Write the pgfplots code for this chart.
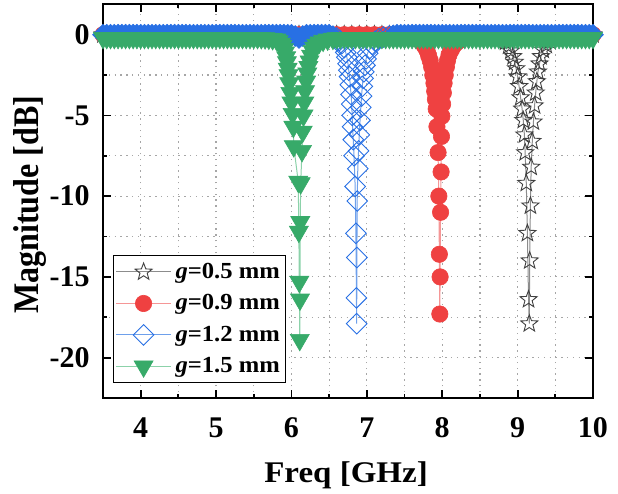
\documentclass[border=0pt]{standalone}
\usepackage{fontspec}
\setmainfont{Liberation Serif}
\newfontfamily\legfont[FakeStretch=1.07]{Liberation Serif}
\newfontfamily\ylabfont[FakeStretch=0.89]{Liberation Serif}
\newfontfamily\xlabfont[FakeStretch=1.1]{Liberation Serif}
\usepackage{pgfplots}
\pgfplotsset{compat=1.18}

\definecolor{cblk}{RGB}{64,64,64}
\definecolor{cblkl}{RGB}{140,140,140}
\definecolor{cred}{RGB}{239,65,65}
\definecolor{credl}{RGB}{245,150,150}
\definecolor{cblu}{RGB}{40,112,228}
\definecolor{cblul}{RGB}{110,160,235}
\definecolor{cgrn}{RGB}{55,170,105}
\definecolor{cgrnl}{RGB}{140,210,170}

% open five-pointed star
\pgfdeclareplotmark{ostar}{%
  \pgfpathmoveto{\pgfpointpolar{90}{\pgfplotmarksize}}%
  \pgfpathlineto{\pgfpointpolar{126}{0.42\pgfplotmarksize}}%
  \pgfpathlineto{\pgfpointpolar{162}{\pgfplotmarksize}}%
  \pgfpathlineto{\pgfpointpolar{198}{0.42\pgfplotmarksize}}%
  \pgfpathlineto{\pgfpointpolar{234}{\pgfplotmarksize}}%
  \pgfpathlineto{\pgfpointpolar{270}{0.42\pgfplotmarksize}}%
  \pgfpathlineto{\pgfpointpolar{306}{\pgfplotmarksize}}%
  \pgfpathlineto{\pgfpointpolar{342}{0.42\pgfplotmarksize}}%
  \pgfpathlineto{\pgfpointpolar{18}{\pgfplotmarksize}}%
  \pgfpathlineto{\pgfpointpolar{54}{0.42\pgfplotmarksize}}%
  \pgfpathclose\pgfusepathqstroke}
% square diamond, open and filled
\pgfdeclareplotmark{rhomb}{%
  \pgfpathmoveto{\pgfqpoint{0pt}{\pgfplotmarksize}}%
  \pgfpathlineto{\pgfqpoint{\pgfplotmarksize}{0pt}}%
  \pgfpathlineto{\pgfqpoint{0pt}{-\pgfplotmarksize}}%
  \pgfpathlineto{\pgfqpoint{-\pgfplotmarksize}{0pt}}%
  \pgfpathclose\pgfusepathqstroke}
\pgfdeclareplotmark{rhomb*}{%
  \pgfpathmoveto{\pgfqpoint{0pt}{\pgfplotmarksize}}%
  \pgfpathlineto{\pgfqpoint{\pgfplotmarksize}{0pt}}%
  \pgfpathlineto{\pgfqpoint{0pt}{-\pgfplotmarksize}}%
  \pgfpathlineto{\pgfqpoint{-\pgfplotmarksize}{0pt}}%
  \pgfpathclose\pgfusepathqfillstroke}

\begin{document}
\begin{tikzpicture}
\begin{axis}[
  scale only axis, width=245pt, height=197pt,
  xmin=3.5, xmax=10, ymin=-22.5, ymax=1.9,
  xtick={4,5,...,10}, ytick={-20,-15,...,0},
  minor x tick num=1, minor y tick num=1,
  tick align=inside, major tick length=4pt, minor tick length=2pt,
  tick style={black, line width=0.9pt},
  axis line style={line width=1pt},
  grid=both,
  major grid style={gray!70, line width=0.6pt, dash pattern=on 0.7pt off 2.2pt},
  minor grid style={gray!70, line width=0.6pt, dash pattern=on 0.7pt off 2.2pt},
  /pgf/number format/assume math mode=true,
  ticklabel style={font=\fontsize{15}{18}\selectfont\bfseries},
  xticklabel style={inner sep=0pt, anchor=north, yshift=-9.5pt},
  yticklabel style={inner sep=0pt, anchor=east, xshift=-6.5pt},
  xlabel={Freq [GHz]},
  xlabel style={at={(axis description cs:0.496,-0.2157)}, anchor=base, inner sep=0pt,
    font=\xlabfont\fontsize{15}{18}\selectfont\bfseries},
  ylabel={Magnitude [dB]},
  ylabel style={at={(axis description cs:-0.149,0.49)}, anchor=center, inner sep=0pt,
    font=\ylabfont\fontsize{18}{21}\selectfont\bfseries},
  legend style={at={(axis description cs:0.0204,0.038)}, anchor=south west,
    draw=black, line width=0.6pt, fill=white, inner xsep=1pt, inner ysep=1.5pt,
    row sep=2.6pt,
    font=\legfont\fontsize{11.5}{13}\selectfont\bfseries, cells={anchor=west}},
  legend image code/.code={\draw[mark repeat=2,mark phase=2]
    plot coordinates {(0pt,0pt) (13.75pt,0pt) (27.5pt,0pt)};},
]

% g = 0.5 mm
\addplot[color=cblkl, line width=0.5pt, mark=ostar, mark size=4.5pt,
  mark options={solid, draw=cblk, line width=0.45pt}] coordinates {
(3.5,0)(3.6,0)(3.7,0)(3.8,0)(3.9,0)(4.0,0)(4.1,0)(4.2,0)(4.3,0)(4.4,0)
(4.5,0)(4.6,0)(4.7,0)(4.8,0)(4.9,0)(5.0,0)(5.1,0)(5.2,0)(5.3,0)(5.4,0)
(5.5,0)(5.6,0)(5.7,0)(5.8,0)(5.9,0)(6.0,0)(6.1,0)(6.2,0)(6.3,0)(6.4,0)
(6.5,0)(6.6,0)(6.7,0)(6.8,0)(6.9,0)(7.0,0)(7.1,0)(7.2,0)(7.3,0)(7.4,0)
(7.5,0)(7.6,0)(7.7,0)(7.8,0)(7.9,0)(8.0,0)(8.1,0)(8.2,0)(8.3,0)(8.4,0)
(8.5,0)
(8.60,-0.05)(8.70,-0.12)(8.78,-0.25)(8.84,-0.45)(8.88,-0.7)(8.91,-1.0)
(8.94,-1.35)(8.96,-1.7)(8.98,-2.1)(9.00,-2.6)(9.02,-3.2)(9.04,-3.9)
(9.06,-4.6)(9.075,-5.3)(9.09,-6.2)(9.10,-7.3)(9.115,-9.2)(9.13,-12.3)
(9.145,-16.4)(9.155,-17.9)(9.16,-14.0)(9.17,-10.6)(9.18,-8.2)(9.195,-6.6)
(9.21,-5.4)(9.225,-4.4)(9.24,-3.6)(9.255,-2.9)(9.27,-2.3)(9.29,-1.8)
(9.31,-1.35)(9.34,-0.95)(9.38,-0.65)(9.43,-0.4)(9.50,-0.22)(9.58,-0.1)
(9.66,-0.05)(9.75,0)(9.85,0)(9.95,0)(10,0)
};
\addlegendentry{\textit{g}=0.5 mm}

% g = 0.9 mm
\addplot[color=credl, line width=0.5pt, mark=*, mark size=4.1pt,
  mark options={solid, draw=cred, fill=cred, line width=0.3pt}] coordinates {
(3.5,0)(3.6,0)(3.7,0)(3.8,0)(3.9,0)(4.0,0)(4.1,0)(4.2,0)(4.3,0)(4.4,0)
(4.5,0)(4.6,0)(4.7,0)(4.8,0)(4.9,0)(5.0,0)(5.1,0)(5.2,0)(5.3,0)(5.4,0)
(5.5,0)(5.6,0)(5.7,0)(5.8,0)(5.9,0)(6.0,0)(6.1,0)(6.2,0)(6.3,0)(6.4,0)
(6.5,0)(6.6,0)(6.7,0)(6.8,0)(6.9,0)(7.0,0)(7.1,0)(7.2,0)(7.3,0)(7.4,0)
(7.5,0)
(7.55,-0.05)(7.62,-0.15)(7.68,-0.3)(7.73,-0.5)(7.77,-0.75)(7.80,-1.0)
(7.82,-1.3)(7.84,-1.6)(7.86,-2.0)(7.875,-2.5)(7.89,-3.0)(7.90,-3.5)
(7.91,-4.0)(7.92,-4.6)(7.93,-5.7)(7.945,-7.3)(7.955,-10.0)(7.962,-13.6)
(7.968,-17.3)(7.972,-15.0)(7.978,-11.0)(7.985,-8.5)(7.99,-6.3)(7.995,-5.05)
(8.005,-4.3)(8.015,-3.6)(8.025,-3.0)(8.04,-2.5)(8.055,-2.0)(8.07,-1.6)
(8.09,-1.25)(8.12,-0.95)(8.15,-0.7)(8.19,-0.5)(8.24,-0.32)(8.30,-0.18)
(8.37,-0.1)(8.45,-0.05)
(8.5,0)(8.6,0)(8.7,0)(8.8,0)(8.9,0)(9.0,0)(9.1,0)(9.2,0)(9.3,0)(9.4,0)
(9.5,0)(9.6,0)(9.7,0)(9.8,0)(9.9,0)(10,0)
};
\addlegendentry{\textit{g}=0.9 mm}

% g = 1.2 mm : flat parts (dense marks merge into a solid band)
\addplot[forget plot, color=cblul, line width=0.5pt, mark=rhomb*, mark size=5.15pt,
  mark options={solid, draw=cblu, fill=cblu, line width=0.4pt}] coordinates {
(3.50,0)(3.55,0)(3.60,0)(3.65,0)(3.70,0)(3.75,0)(3.80,0)(3.85,0)(3.90,0)(3.95,0)
(4.00,0)(4.05,0)(4.10,0)(4.15,0)(4.20,0)(4.25,0)(4.30,0)(4.35,0)(4.40,0)(4.45,0)
(4.50,0)(4.55,0)(4.60,0)(4.65,0)(4.70,0)(4.75,0)(4.80,0)(4.85,0)(4.90,0)(4.95,0)
(5.00,0)(5.05,0)(5.10,0)(5.15,0)(5.20,0)(5.25,0)(5.30,0)(5.35,0)(5.40,0)(5.45,0)
(5.50,0)(5.55,0)(5.60,0)(5.65,0)(5.70,0)(5.75,0)(5.80,0)(5.85,0)(5.90,0)(5.95,0)
(6.00,0)(6.05,-0.08)(6.10,-0.2)(6.15,-0.08)(6.20,0)(6.25,0)(6.30,0)(6.35,0)
(6.40,0)(6.45,0)(6.50,0)(6.55,-0.1)
};
% g = 1.2 mm : resonance
\addplot[color=cblul, line width=0.5pt, mark=rhomb, mark size=5.15pt,
  mark options={solid, draw=cblu, line width=0.45pt}] coordinates {
(6.55,-0.1)(6.60,-0.2)(6.64,-0.35)(6.67,-0.55)(6.70,-0.8)(6.72,-1.1)
(6.735,-1.4)(6.75,-1.8)(6.76,-2.2)(6.77,-2.6)(6.78,-3.1)(6.79,-3.7)
(6.80,-4.3)(6.805,-5.0)(6.81,-5.7)(6.82,-6.5)(6.83,-7.5)(6.845,-9.4)
(6.855,-12.3)(6.862,-16.3)(6.865,-17.9)(6.868,-13.8)(6.872,-10.3)(6.88,-8.3)
(6.89,-7.2)(6.90,-6.2)(6.91,-5.3)(6.92,-4.5)(6.93,-3.8)(6.94,-3.2)
(6.95,-2.7)(6.96,-2.3)(6.975,-1.9)(6.99,-1.5)(7.01,-1.15)(7.04,-0.85)
(7.07,-0.6)(7.11,-0.4)(7.16,-0.25)(7.22,-0.15)(7.30,-0.08)(7.35,-0.05)
};
\addlegendentry{\textit{g}=1.2 mm}
\addplot[forget plot, color=cblul, line width=0.5pt, mark=rhomb*, mark size=5.15pt,
  mark options={solid, draw=cblu, fill=cblu, line width=0.4pt}] coordinates {
(7.35,-0.05)(7.40,0)(7.45,0)(7.50,0)(7.55,0)(7.60,0)(7.65,0)(7.70,0)(7.75,0)
(7.80,0)(7.85,0)(7.90,0)(7.95,0)(8.00,0)(8.05,0)(8.10,0)(8.15,0)(8.20,0)
(8.25,0)(8.30,0)(8.35,0)(8.40,0)(8.45,0)(8.50,0)(8.55,0)(8.60,0)(8.65,0)
(8.70,0)(8.75,0)(8.80,0)(8.85,0)(8.90,0)(8.95,0)(9.00,0)(9.05,0)(9.10,0)
(9.15,0)(9.20,0)(9.25,0)(9.30,0)(9.35,0)(9.40,0)(9.45,0)(9.50,0)(9.55,0)
(9.60,0)(9.65,0)(9.70,0)(9.75,0)(9.80,0)(9.85,0)(9.90,0)(9.95,0)(10.00,0)
};

% g = 1.5 mm
\addplot[color=cgrnl, line width=0.5pt, mark=triangle*, mark size=5.5pt,
  mark options={solid, rotate=180, draw=cgrn, fill=cgrn, line width=0.3pt}] coordinates {
(3.50,-0.2)(3.55,-0.2)(3.60,-0.2)(3.65,-0.2)(3.70,-0.2)(3.75,-0.2)(3.80,-0.2)
(3.85,-0.2)(3.90,-0.2)(3.95,-0.2)(4.00,-0.2)(4.05,-0.2)(4.10,-0.2)(4.15,-0.2)
(4.20,-0.2)(4.25,-0.2)(4.30,-0.2)(4.35,-0.2)(4.40,-0.2)(4.45,-0.2)(4.50,-0.2)
(4.55,-0.2)(4.60,-0.2)(4.65,-0.2)(4.70,-0.2)(4.75,-0.2)(4.80,-0.2)(4.85,-0.2)
(4.90,-0.2)(4.95,-0.2)(5.00,-0.2)(5.05,-0.2)(5.10,-0.2)(5.15,-0.2)(5.20,-0.2)
(5.25,-0.2)(5.30,-0.2)(5.35,-0.2)(5.40,-0.2)(5.45,-0.2)(5.50,-0.2)(5.55,-0.2)
(5.60,-0.21)(5.65,-0.22)(5.70,-0.24)(5.75,-0.27)
(5.80,-0.3)(5.83,-0.4)(5.86,-0.55)(5.88,-0.7)(5.90,-0.9)(5.915,-1.1)
(5.93,-1.4)(5.94,-1.7)(5.95,-2.1)(5.96,-2.5)(5.97,-3.0)(5.985,-3.6)
(6.00,-4.2)(6.015,-4.9)(6.025,-5.7)(6.03,-6.9)(6.09,-9.1)(6.098,-12.2)
(6.104,-15.3)(6.11,-18.9)(6.113,-16.4)(6.117,-11.6)(6.122,-9.2)(6.14,-7.2)
(6.15,-6.0)(6.16,-5.0)(6.17,-4.2)(6.18,-3.5)(6.195,-2.9)(6.21,-2.4)
(6.225,-2.0)(6.24,-1.65)(6.26,-1.3)(6.28,-1.0)(6.30,-0.8)(6.33,-0.62)
(6.37,-0.48)(6.42,-0.37)(6.48,-0.3)(6.55,-0.25)(6.60,-0.22)
(6.65,-0.2)(6.70,-0.2)(6.75,-0.2)(6.80,-0.2)(6.85,-0.2)(6.90,-0.2)(6.95,-0.2)
(7.00,-0.2)(7.05,-0.2)(7.10,-0.2)(7.15,-0.2)(7.20,-0.2)(7.25,-0.2)(7.30,-0.2)
(7.35,-0.2)(7.40,-0.2)(7.45,-0.2)(7.50,-0.2)(7.55,-0.2)(7.60,-0.2)(7.65,-0.2)
(7.70,-0.2)(7.75,-0.2)(7.80,-0.2)(7.85,-0.2)(7.90,-0.2)(7.95,-0.2)(8.00,-0.2)
(8.05,-0.2)(8.10,-0.2)(8.15,-0.2)(8.20,-0.2)(8.25,-0.2)(8.30,-0.2)(8.35,-0.2)
(8.40,-0.2)(8.45,-0.2)(8.50,-0.2)(8.55,-0.2)(8.60,-0.2)(8.65,-0.2)(8.70,-0.2)
(8.75,-0.2)(8.80,-0.2)(8.85,-0.2)(8.90,-0.2)(8.95,-0.2)(9.00,-0.2)(9.05,-0.2)
(9.10,-0.2)(9.15,-0.2)(9.20,-0.2)(9.25,-0.2)(9.30,-0.2)(9.35,-0.2)(9.40,-0.2)
(9.45,-0.2)(9.50,-0.2)(9.55,-0.2)(9.60,-0.2)(9.65,-0.2)(9.70,-0.2)(9.75,-0.2)
(9.80,-0.2)(9.85,-0.2)(9.90,-0.2)(9.95,-0.2)(10.00,-0.2)
};
\addlegendentry{\textit{g}=1.5 mm}

\end{axis}
\pgfresetboundingbox
\useasboundingbox ([shift={(-51.5pt,-48pt)}]current axis.south west)
  rectangle ([shift={(12.5pt,2pt)}]current axis.north east);
\end{tikzpicture}
\end{document}
